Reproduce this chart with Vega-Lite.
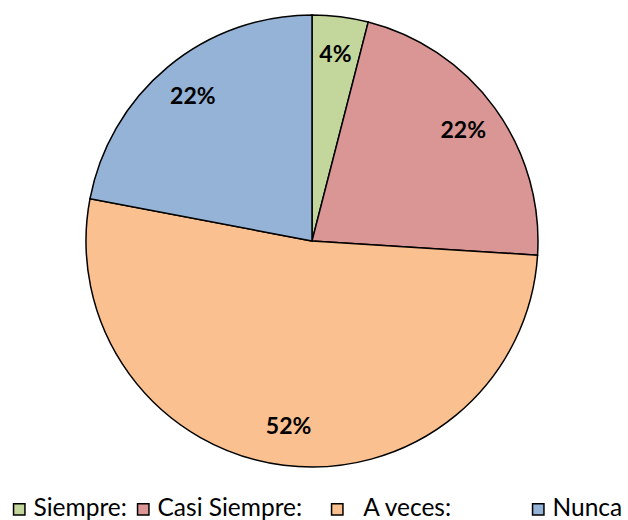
{
  "$schema": "https://vega.github.io/schema/vega-lite/v6.json",
  "width": 624,
  "height": 482,
  "autosize": {"type": "none"},
  "padding": {"left": 0, "top": 0, "right": 4, "bottom": 38},
  "background": "white",
  "data": {
    "values": [
      {"categoria": "Siempre:", "orden": 1, "valor": 4, "etiqueta": "4%"},
      {"categoria": "Casi Siempre:", "orden": 2, "valor": 22, "etiqueta": "22%"},
      {"categoria": "A veces:", "orden": 3, "valor": 52, "etiqueta": "52%"},
      {"categoria": "Nunca", "orden": 4, "valor": 22, "etiqueta": "22%"}
    ]
  },
  "encoding": {
    "theta": {"field": "valor", "type": "quantitative", "stack": true},
    "order": {"field": "orden", "type": "quantitative"},
    "color": {
      "field": "categoria",
      "type": "nominal",
      "scale": {
        "domain": ["Siempre:", "Casi Siempre:", "A veces:", "Nunca"],
        "range": ["#C3D69B", "#D99694", "#FAC090", "#95B3D7"]
      },
      "legend": {
        "title": null,
        "orient": "none",
        "legendX": 7,
        "legendY": 497,
        "direction": "horizontal",
        "symbolType": "square",
        "symbolSize": 130,
        "symbolStrokeColor": "black",
        "symbolStrokeWidth": 1.5,
        "labelFont": "Lato",
        "labelFontSize": 24.5,
        "labelColor": "black",
        "labelOffset": 2,
        "columnPadding": 4,
        "labelLimit": 400,
        "labelExpr": "datum.label == 'Siempre:' ? 'Siempre:\u200b' : datum.label == 'Casi Siempre:' ? 'Casi Siempre:\u00a0\u00a0\u00a0\u200b' : datum.label == 'A veces:' ? '\u200b\u00a0\u00a0A veces:\u00a0\u00a0\u00a0\u00a0\u00a0\u00a0\u00a0\u00a0\u00a0\u00a0\u00a0\u200b' : datum.label"
      }
    }
  },
  "layer": [
    {
      "mark": {"type": "arc", "radius": 226, "stroke": "black", "strokeWidth": 1.5}
    },
    {
      "mark": {"type": "text", "radius": 187, "font": "Lato", "fontSize": 23, "fontWeight": "bold", "color": "black"},
      "encoding": {
        "text": {"field": "etiqueta", "type": "nominal"},
        "color": {"value": "black"}
      }
    }
  ],
  "config": {"view": {"stroke": null}}
}
